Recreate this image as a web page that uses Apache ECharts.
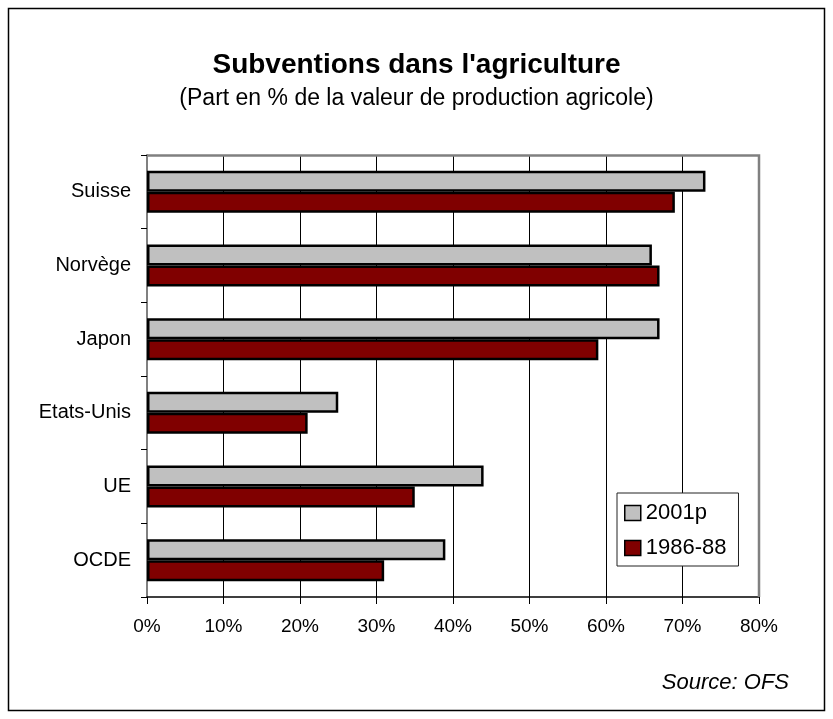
<!DOCTYPE html>
<html><head><meta charset="utf-8">
<script src="https://cdn.jsdelivr.net/npm/echarts@6/dist/echarts.min.js"></script>
<style>html,body{margin:0;padding:0;background:#fff}#c{width:833px;height:719px}</style>
</head><body><div id="c"></div>
<script>
const categories = ['Suisse', 'Norvège', 'Japon', 'Etats-Unis', 'UE', 'OCDE'];
const s2001 = [73, 66, 67, 25, 44, 39];
const s1986 = [69, 67, 59, 21, 35, 31];
const xTicks = [0, 10, 20, 30, 40, 50, 60, 70, 80];
const F = '"Liberation Sans", Arial, sans-serif';
const chart = echarts.init(document.getElementById('c'), null, {renderer: 'canvas'});
chart.setOption({
  animation: false,
  backgroundColor: '#fff',
  textStyle: {fontFamily: F},
  title: [
    {text: "Subventions dans l'agriculture", left: 'center', top: 46,
     textStyle: {fontFamily: F, fontSize: 28, fontWeight: 'bold', color: '#000'}},
    {text: '(Part en % de la valeur de production agricole)', left: 'center', top: 82,
     textStyle: {fontFamily: F, fontSize: 23, fontWeight: 'normal', color: '#000'}},
    {text: 'Source: OFS', right: 39, top: 667,
     textStyle: {fontFamily: F, fontSize: 22, fontWeight: 'normal', fontStyle: 'italic', color: '#000'}}
  ],
  graphic: [
    {type: 'rect', shape: {x: 8.5, y: 8.5, width: 816, height: 702}, style: {fill: 'none', stroke: '#000', lineWidth: 1.5}, z: 100},
    {type: 'polyline', shape: {points: [[147, 155.5], [759, 155.5], [759, 597]]}, style: {fill: 'none', stroke: '#808080', lineWidth: 2.5}, z: 5}
  ],
  grid: {left: 147, right: 74, top: 155, bottom: 122, containLabel: false},
  legend: {
    orient: 'vertical', left: 617, top: 493,
    padding: [9, 12, 7, 7], itemGap: 13,
    itemWidth: 16, itemHeight: 15,
    borderColor: '#222', borderWidth: 1, backgroundColor: '#fff',
    textStyle: {fontFamily: F, fontSize: 22, color: '#000', padding: [0, 0, 0, 0]},
    data: [
      {name: '2001p', icon: 'rect', itemStyle: {color: '#c0c0c0', borderColor: '#000', borderWidth: 1.5}},
      {name: '1986-88', icon: 'rect', itemStyle: {color: '#800000', borderColor: '#000', borderWidth: 1.5}}
    ],
    z: 10
  },
  xAxis: {
    type: 'value', min: 0, max: 80, interval: 10,
    axisLine: {show: true, lineStyle: {color: '#000', width: 1.5}},
    axisTick: {show: true, length: 7, inside: false, lineStyle: {color: '#000'}},
    splitLine: {show: true, lineStyle: {color: '#000', width: 1}},
    axisLabel: {fontFamily: F, fontSize: 19, color: '#000', margin: 20,
      formatter: v => xTicks.indexOf(v) >= 0 ? v + '%' : ''}
  },
  yAxis: {
    type: 'category', data: categories, inverse: true,
    axisLine: {show: true, lineStyle: {color: '#808080', width: 2}},
    axisTick: {show: true, length: 6, lineStyle: {color: '#000', width: 1}},
    axisLabel: {fontFamily: F, fontSize: 20, color: '#000', margin: 16}
  },
  series: [
    {name: '2001p', type: 'bar', data: s2001, barWidth: 21, barGap: '0%',
     itemStyle: {color: '#c0c0c0', borderColor: '#000', borderWidth: 2.5}},
    {name: '1986-88', type: 'bar', data: s1986, barWidth: 21,
     itemStyle: {color: '#800000', borderColor: '#000', borderWidth: 2.5}}
  ]
});
</script></body></html>
